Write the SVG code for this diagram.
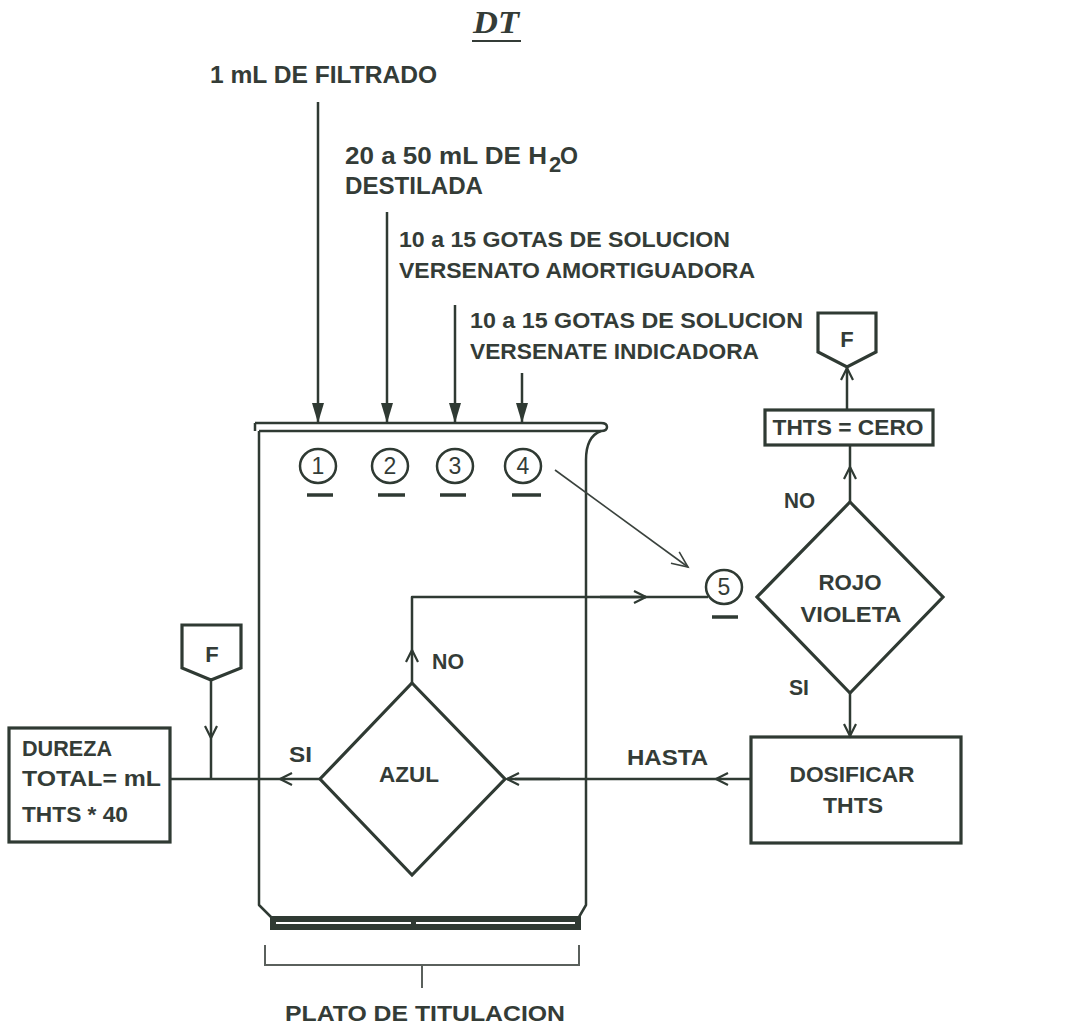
<svg xmlns="http://www.w3.org/2000/svg" width="1078" height="1026" viewBox="0 0 1078 1026">
<style>
.ln{stroke:#2f3a33;stroke-width:2.5;fill:none;stroke-linejoin:round}
.sh{stroke:#2f3a33;stroke-width:3.2;fill:#fff;stroke-linejoin:miter}
.thin{stroke:#3a423d;stroke-width:1.6;fill:none}
.t{font-family:"Liberation Sans",Arial,sans-serif;font-weight:bold;font-size:22px;fill:#343c37}
.big{font-size:24px}
.c{text-anchor:middle}
.dg{font-family:"Liberation Sans",Arial,sans-serif;font-size:23px;fill:#343c37;text-anchor:middle}
.us{stroke:#2f3a33;stroke-width:3.5}
</style>
<defs>
<marker id="solid" markerUnits="userSpaceOnUse" viewBox="0 0 20 12" refX="20" refY="6" markerWidth="20" markerHeight="12" orient="auto">
<path d="M0,0 L20,6 L0,12 Z" fill="#2f3a33"/>
</marker>
<marker id="open" markerUnits="userSpaceOnUse" viewBox="-2 -2 16 16" refX="12" refY="6" markerWidth="16" markerHeight="16" orient="auto" overflow="visible">
<path d="M0,0 L12,6 L0,12" fill="none" stroke="#2f3a33" stroke-width="2.2"/>
</marker>
<marker id="openthin" markerUnits="userSpaceOnUse" viewBox="-2 -2 20 20" refX="16" refY="7" markerWidth="20" markerHeight="20" orient="auto" overflow="visible">
<path d="M0,0 L16,7 L0,14" fill="none" stroke="#3a423d" stroke-width="1.6"/>
</marker>
</defs>
<rect width="1078" height="1026" fill="#ffffff"/>

<g id="title">
<text x="496" y="33" font-family="Liberation Serif,Times New Roman,serif" font-weight="bold" font-style="italic" font-size="32" fill="#343c37" text-anchor="middle" textLength="46" lengthAdjust="spacingAndGlyphs">DT</text>
<line x1="472" y1="41" x2="521" y2="41" stroke="#343c37" stroke-width="2"/>
</g>

<g id="inputs">
<text class="t big" x="210" y="83" textLength="227" lengthAdjust="spacingAndGlyphs">1 mL DE FILTRADO</text>
<text class="t big" x="345" y="164" textLength="202" lengthAdjust="spacingAndGlyphs">20 a 50 mL DE H</text>
<text class="t" x="549" y="172" font-size="17">2</text>
<text class="t big" x="560" y="164" textLength="18" lengthAdjust="spacingAndGlyphs">O</text>
<text class="t big" x="345" y="194" textLength="138" lengthAdjust="spacingAndGlyphs">DESTILADA</text>
<text class="t" x="399" y="247" textLength="331" lengthAdjust="spacingAndGlyphs">10 a 15 GOTAS DE SOLUCION</text>
<text class="t" x="399" y="278" textLength="356" lengthAdjust="spacingAndGlyphs">VERSENATO AMORTIGUADORA</text>
<text class="t" x="470" y="328" textLength="333" lengthAdjust="spacingAndGlyphs">10 a 15 GOTAS DE SOLUCION</text>
<text class="t" x="470" y="359" textLength="289" lengthAdjust="spacingAndGlyphs">VERSENATE INDICADORA</text>
</g>

<g id="beaker">
<path class="ln" d="M255,423 H601 Q607,423 607,427 Q607,431 601,431 H259 M255,423 V431"/>
<path class="ln" d="M259,431 V905 L271,917"/>
<path class="ln" d="M601,431 C590,435 586,445 586,460 V905 L579,917"/>
<rect x="270" y="916" width="311" height="14" fill="#2f3a33"/>
<line x1="276" y1="923" x2="411" y2="923" stroke="#ffffff" stroke-width="2"/>
<line x1="416" y1="923" x2="575" y2="923" stroke="#ffffff" stroke-width="2"/>
</g>

<g id="bracket">
<path d="M265,945 V965 H579 V945 M422,965 V988" fill="none" stroke="#5a605c" stroke-width="2"/>
<text class="t c" x="425" y="1021" textLength="280" lengthAdjust="spacingAndGlyphs">PLATO DE TITULACION</text>
</g>

<g id="steps">
<ellipse class="ln" cx="318" cy="466" rx="18" ry="17"/>
<text class="dg" x="318" y="474">1</text>
<line class="us" x1="307" y1="495" x2="333" y2="495"/>
<ellipse class="ln" cx="390" cy="466" rx="18" ry="17"/>
<text class="dg" x="390" y="474">2</text>
<line class="us" x1="378" y1="495" x2="405" y2="495"/>
<ellipse class="ln" cx="455" cy="466" rx="18" ry="17"/>
<text class="dg" x="455" y="474">3</text>
<line class="us" x1="440" y1="495" x2="466" y2="495"/>
<ellipse class="ln" cx="523" cy="466" rx="18" ry="17"/>
<text class="dg" x="523" y="474">4</text>
<line class="us" x1="512" y1="495" x2="541" y2="495"/>
</g>

<g id="step5">
<ellipse class="ln" cx="724" cy="587" rx="18" ry="17"/>
<text class="dg" x="724" y="595">5</text>
<line class="us" x1="712" y1="617" x2="738" y2="617"/>
</g>

<g id="azul">
<polygon class="sh" points="412,683 505,779 412,875 320,779"/>
<text class="t c" x="409" y="782" textLength="60" lengthAdjust="spacingAndGlyphs">AZUL</text>
</g>

<g id="rojo">
<polygon class="sh" points="850,502 943,597 850,693 757,597"/>
<text class="t c" x="850" y="590" textLength="63" lengthAdjust="spacingAndGlyphs">ROJO</text>
<text class="t c" x="851" y="622" textLength="101" lengthAdjust="spacingAndGlyphs">VIOLETA</text>
</g>

<g id="dosificar">
<rect class="sh" x="751" y="737" width="210" height="106"/>
<text class="t c" x="852" y="782" textLength="125" lengthAdjust="spacingAndGlyphs">DOSIFICAR</text>
<text class="t c" x="853" y="813" textLength="60" lengthAdjust="spacingAndGlyphs">THTS</text>
</g>

<g id="cero">
<rect class="sh" x="765" y="410" width="168" height="35"/>
<text class="t c" x="848" y="435" textLength="151" lengthAdjust="spacingAndGlyphs">THTS = CERO</text>
</g>

<g id="f-right">
<path class="sh" d="M818,313 H876 V352 L847,367 L818,352 Z"/>
<text class="t c" x="847" y="347">F</text>
</g>

<g id="f-left">
<path class="sh" d="M182,625 H241 V668 L211,680 L182,668 Z"/>
<text class="t c" x="212" y="662">F</text>
</g>

<g id="dureza">
<rect class="sh" x="9" y="728" width="161" height="114"/>
<text class="t" x="22" y="756" textLength="90" lengthAdjust="spacingAndGlyphs">DUREZA</text>
<text class="t" x="22" y="786" textLength="139" lengthAdjust="spacingAndGlyphs">TOTAL= mL</text>
<text class="t" x="22" y="822" textLength="106" lengthAdjust="spacingAndGlyphs">THTS * 40</text>
</g>

<g id="connectors">
<line class="ln" x1="318" y1="102" x2="318" y2="423" marker-end="url(#solid)"/>
<line class="ln" x1="387" y1="212" x2="387" y2="423" marker-end="url(#solid)"/>
<line class="ln" x1="455" y1="305" x2="455" y2="423" marker-end="url(#solid)"/>
<line class="ln" x1="522" y1="373" x2="522" y2="423" marker-end="url(#solid)"/>

<line class="thin" x1="555" y1="470" x2="688" y2="567" marker-end="url(#openthin)"/>

<path class="ln" d="M412,683 V650" marker-end="url(#open)"/>
<path class="ln" d="M412,650 V597 H646" />
<path class="ln" d="M600,597 H646" marker-end="url(#open)"/>
<path class="ln" d="M646,597 H708"/>
<text class="t" x="432" y="669" textLength="32" lengthAdjust="spacingAndGlyphs">NO</text>

<path class="ln" d="M850,502 V467" marker-end="url(#open)"/>
<path class="ln" d="M850,467 V445"/>
<path class="ln" d="M847,410 V368" marker-end="url(#open)"/>
<text class="t" x="784" y="508" textLength="31" lengthAdjust="spacingAndGlyphs">NO</text>

<path class="ln" d="M850,693 V736" marker-end="url(#open)"/>
<text class="t" x="789" y="695" textLength="20" lengthAdjust="spacingAndGlyphs">SI</text>

<path class="ln" d="M751,779 H716" marker-end="url(#open)"/>
<path class="ln" d="M716,779 H515"/>
<path class="ln" d="M560,779 H507" marker-end="url(#open)"/>
<text class="t" x="627" y="765" textLength="81" lengthAdjust="spacingAndGlyphs">HASTA</text>

<path class="ln" d="M320,779 H280" marker-end="url(#open)"/>
<path class="ln" d="M280,779 H170"/>
<text class="t" x="289" y="762" textLength="23" lengthAdjust="spacingAndGlyphs">SI</text>

<path class="ln" d="M211,680 V738" marker-end="url(#open)"/>
<path class="ln" d="M211,738 V779"/>
</g>
</svg>
